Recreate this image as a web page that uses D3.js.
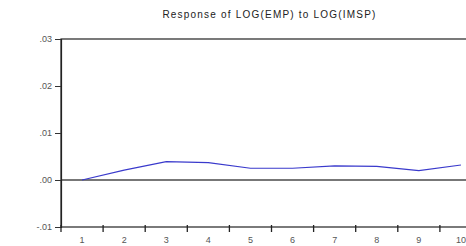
<!DOCTYPE html>
<html>
<head>
<meta charset="utf-8">
<script src="https://cdn.jsdelivr.net/npm/d3@7"></script>
<style>
body { margin: 0; background: #fff; }
svg { display: block; font-family: Arial, "Liberation Sans", sans-serif; }
</style>
</head>
<body>
<svg id="chart" width="466" height="246"></svg>
<script>
// impulse response values
var periods = [1, 2, 3, 4, 5, 6, 7, 8, 9, 10];
var response = [0.0000, 0.0021, 0.0039, 0.0037, 0.0025, 0.0025, 0.0030, 0.0029, 0.0020, 0.0032];
var yTicks = [-0.01, 0.00, 0.01, 0.02, 0.03];
var yTickLabels = ["-.01", ".00", ".01", ".02", ".03"];
var title = "Response of LOG(EMP) to LOG(IMSP)";

var svg = d3.select("#chart");
var mLeft = 61, mRight = 482, mTop = 39, mBottom = 227;

var x = d3.scaleBand().domain(periods).range([mLeft, mRight]);
var y = d3.scaleLinear().domain([-0.01, 0.03]).range([mBottom, mTop]);

svg.append("text")
  .attr("x", (mLeft + mRight) / 2 - 2)
  .attr("y", 18)
  .attr("text-anchor", "middle")
  .attr("font-size", 10)
  .attr("letter-spacing", 1.2)
  .attr("fill", "#222")
  .text(title);

// frame
svg.append("rect")
  .attr("x", mLeft).attr("y", mTop)
  .attr("width", mRight - mLeft).attr("height", mBottom - mTop)
  .attr("fill", "none").attr("stroke", "#222").attr("stroke-width", 1.2);

// zero line
svg.append("line")
  .attr("x1", mLeft).attr("x2", mRight)
  .attr("y1", y(0)).attr("y2", y(0))
  .attr("stroke", "#777").attr("stroke-width", 2);

// y axis
var ya = svg.append("g").attr("transform", "translate(" + mLeft + ",0)")
  .call(d3.axisLeft(y).tickValues(yTicks).tickSize(6).tickPadding(3)
    .tickFormat(function(d, i) { return yTickLabels[i]; }));
ya.select(".domain").attr("stroke", "#222").attr("stroke-width", 1.2);
ya.selectAll(".tick line").attr("stroke", "#333");
ya.selectAll("text").attr("font-size", 9).attr("fill", "#555").attr("font-family", "Arial, sans-serif");

// x axis: ticks at band boundaries, labels at centres
var bounds = periods.map(function(p) { return x(p); });
var xb = svg.append("g");
xb.selectAll("line").data(bounds).enter().append("line")
  .attr("x1", function(d) { return d; }).attr("x2", function(d) { return d; })
  .attr("y1", mBottom - 2).attr("y2", mBottom + 5)
  .attr("stroke", "#222").attr("stroke-width", 1.3);
xb.selectAll("text").data(periods).enter().append("text")
  .attr("x", function(d) { return x(d) + x.bandwidth() / 2; })
  .attr("y", mBottom + 16)
  .attr("text-anchor", "middle")
  .attr("font-size", 9).attr("fill", "#555")
  .text(function(d) { return d; });

// response line
var line = d3.line()
  .x(function(d, i) { return x(periods[i]) + x.bandwidth() / 2; })
  .y(function(d) { return y(d); });
svg.append("path")
  .datum(response)
  .attr("d", line)
  .attr("fill", "none")
  .attr("stroke", "#3a3acc")
  .attr("stroke-width", 1.1);
</script>
</body>
</html>
